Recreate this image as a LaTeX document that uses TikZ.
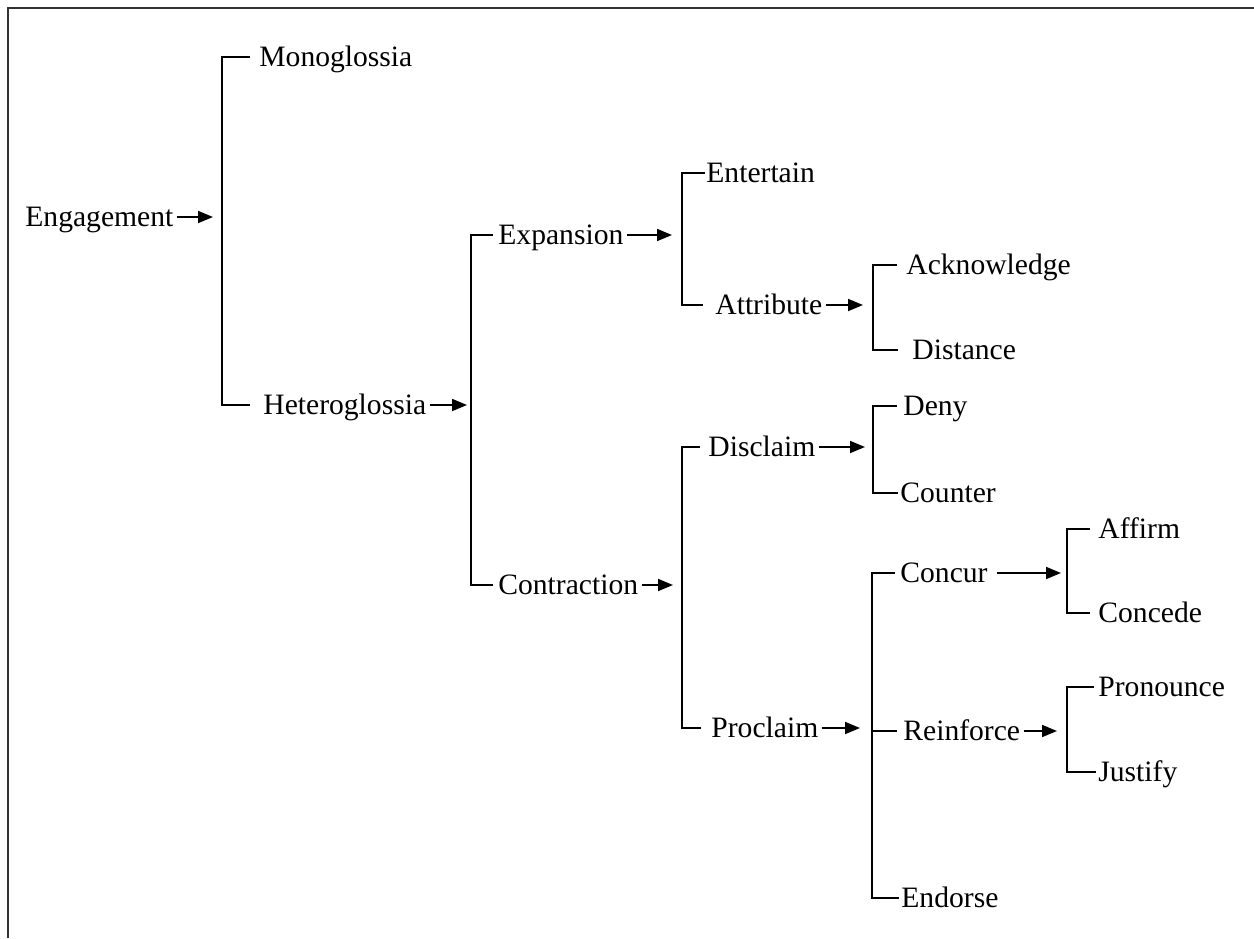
\documentclass[tikz,border=0pt]{standalone}
\usepackage{fontspec}
\setmainfont{Liberation Serif}
\usetikzlibrary{arrows.meta}
\begin{document}
\begin{tikzpicture}[x=0.5pt,y=-0.5pt,
  lbl/.style={anchor=west,inner sep=0pt,text height=9.8pt,text depth=0pt,font=\fontsize{14.8pt}{17pt}\selectfont},
  link/.style={line width=0.9pt,black},
  arr/.style={line width=0.9pt,black,-{Triangle[length=7.5pt,width=6pt]},shorten <=1.5pt,shorten >=4pt}]
\useasboundingbox (0,0) rectangle (1254,938);
\draw[line width=1.2pt,black!80] (8,938) -- (8,8) -- (1254,8);
% nodes
\node[lbl] (eng) at (25,217) {Engagement};
\node[lbl] (mono) at (259,57) {Monoglossia};
\node[lbl] (het) at (263,405) {Heteroglossia};
\node[lbl] (exp) at (498,235) {Expansion};
\node[lbl] (con) at (498,585) {Contraction};
\node[lbl] (ent) at (706,173) {Entertain};
\node[lbl] (att) at (715,305) {Attribute};
\node[lbl] (ack) at (906,265) {Acknowledge};
\node[lbl] (dis) at (912,350) {Distance};
\node[lbl] (dcl) at (708,447) {Disclaim};
\node[lbl] (pro) at (711,728) {Proclaim};
\node[lbl] (deny) at (903,406) {Deny};
\node[lbl] (cnt) at (900,493) {Counter};
\node[lbl] (ccr) at (900,573) {Concur};
\node[lbl] (rei) at (903,731) {Reinforce};
\node[lbl] (end) at (901,898) {Endorse};
\node[lbl] (aff) at (1098,529) {Affirm};
\node[lbl] (cde) at (1098,613) {Concede};
\node[lbl] (prn) at (1098,687) {Pronounce};
\node[lbl] (jus) at (1098,772) {Justify};
% bracket junctions
\coordinate (b1) at (222,217);
\coordinate (b2) at (471,405);
\coordinate (b3) at (682,235);
\coordinate (b4) at (873,305);
\coordinate (b5) at (682,585);
\coordinate (b6) at (873,447);
\coordinate (b7) at (872,728);
\coordinate (b8) at (1067,573);
\coordinate (b9) at (1067,731);
% arrows
\draw[arr,shorten >=4.5pt] (eng.east) -- (b1);
\draw[arr,shorten >=2pt] (het.east) -- (b2);
\draw[arr,shorten >=5pt] (exp.east) -- (b3);
\draw[arr,shorten >=4.5pt] (con.east) -- (b5);
\draw[arr,shorten >=5pt] (att.east) -- (b4);
\draw[arr,shorten >=4pt] (dcl.east) -- (b6);
\draw[arr,shorten >=6pt] (pro.east) -- (b7);
\draw[arr,shorten <=4.5pt,shorten >=3pt] (ccr.east) -- (b8);
\draw[arr,shorten >=5pt] (rei.east) -- (b9);
% brackets
\draw[link] ([xshift=-4.5pt]mono.west) -| (b1) |- ([xshift=-6.5pt]het.west);
\draw[link] ([xshift=-2.5pt]exp.west) -| (b2) |- ([xshift=-2.5pt]con.west);
\draw[link] ([xshift=-0.5pt]ent.west) -| (b3) |- ([xshift=-6pt]att.west);
\draw[link] ([xshift=-4.5pt]ack.west) -| (b4) |- ([xshift=-7pt]dis.west);
\draw[link] ([xshift=-4pt]dcl.west) -| (b5) |- ([xshift=-5pt]pro.west);
\draw[link] ([xshift=-3pt]deny.west) -| (b6) |- ([xshift=-1pt]cnt.west);
\draw[link] ([xshift=-2.5pt]ccr.west) -| (b7) |- ([xshift=-1pt]end.west);
\draw[link] (b7 |- rei.west) -- ([xshift=-3pt]rei.west);
\draw[link] ([xshift=-4pt]aff.west) -| (b8) |- ([xshift=-4pt]cde.west);
\draw[link] ([xshift=-2pt]prn.west) -| (b9) |- ([xshift=-1pt]jus.west);
\end{tikzpicture}
\end{document}
